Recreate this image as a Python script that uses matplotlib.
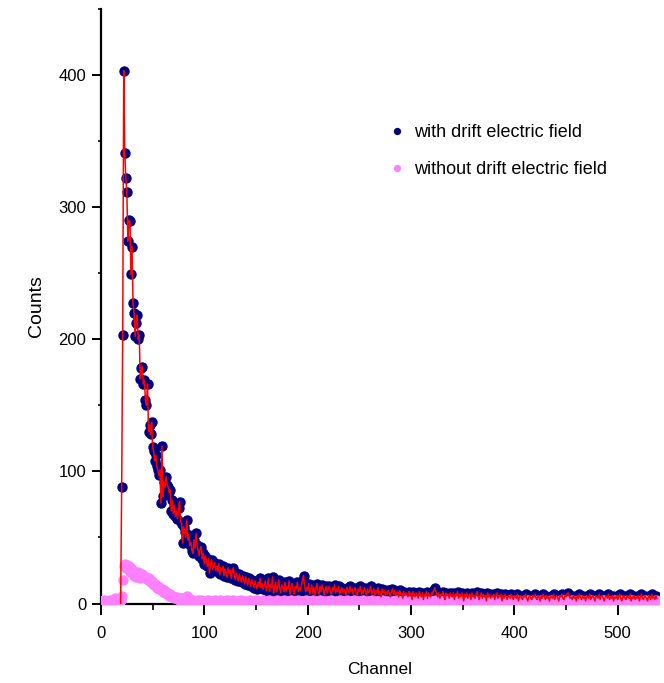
import matplotlib
matplotlib.use("Agg")
import matplotlib.pyplot as plt
from matplotlib.ticker import MultipleLocator

plt.rcParams["font.family"] = ["Liberation Sans", "DejaVu Sans"]

# spectrum with drift field, channels 19..538
with_start = 19
with_field = [
    0, 88, 203, 403, 341, 322, 311, 274, 290, 289, 249, 270, 227, 220, 202, 212, 218, 200, 203, 170,
    178, 179, 166, 169, 154, 150, 166, 130, 135, 128, 137, 118, 115, 108, 112, 104, 101, 97, 101, 76,
    119, 81, 92, 88, 96, 90, 88, 84, 86, 70, 78, 68, 74, 66, 70, 64, 72, 77, 62, 60,
    46, 58, 54, 50, 63, 48, 52, 44, 46, 40, 38, 48, 42, 53, 44, 40, 36, 42, 43, 34,
    38, 30, 36, 32, 28, 34, 23, 30, 33, 26, 29, 31, 25, 28, 24, 30, 22, 27, 25, 28,
    21, 26, 24, 20, 27, 23, 25, 19, 24, 27, 21, 18, 23, 20, 17, 22, 19, 16, 21, 18,
    15, 20, 17, 14, 19, 16, 13, 18, 15, 12, 17, 14, 11, 16, 13, 19, 12, 15, 11, 14,
    17, 10, 13, 19, 9, 14, 12, 20, 8, 13, 16, 9, 12, 18, 11, 8, 14, 12, 9, 16,
    9, 13, 11, 17, 7, 12, 15, 10, 7, 13, 11, 16, 9, 12, 10, 14, 18, 21, 13, 9,
    12, 10, 15, 7, 11, 14, 8, 12, 6, 11, 15, 10, 7, 13, 9, 14, 11, 6, 10, 13,
    8, 11, 13, 9, 7, 12, 10, 14, 8, 11, 9, 13, 7, 10, 12, 8, 11, 9, 6, 12,
    10, 8, 13, 9, 11, 7, 10, 12, 8, 6, 11, 9, 13, 7, 10, 8, 12, 9, 6, 11,
    8, 10, 13, 7, 9, 11, 6, 10, 8, 12, 7, 9, 5, 11, 8, 10, 6, 9, 7, 10,
    8, 5, 9, 11, 7, 10, 6, 8, 9, 5, 10, 7, 8, 4, 9, 6, 8, 7, 5, 9,
    6, 8, 3, 9, 7, 5, 8, 6, 4, 9, 7, 5, 8, 3, 7, 6, 9, 4, 8, 6,
    5, 8, 7, 10, 12, 9, 7, 5, 8, 4, 7, 6, 9, 5, 3, 8, 6, 7, 4, 8,
    6, 5, 8, 3, 7, 6, 9, 4, 7, 5, 8, 6, 2, 7, 5, 8, 4, 6, 7, 3,
    8, 5, 6, 4, 7, 9, 5, 3, 6, 8, 4, 7, 5, 6, 2, 8, 5, 7, 4, 6,
    5, 7, 3, 6, 8, 4, 6, 5, 7, 2, 6, 4, 7, 5, 3, 6, 5, 4, 7, 5,
    3, 6, 5, 4, 7, 2, 5, 6, 4, 3, 6, 5, 7, 4, 2, 5, 6, 4, 3, 6,
    5, 7, 4, 3, 6, 5, 2, 6, 4, 7, 5, 3, 6, 4, 5, 2, 6, 5, 4, 7,
    3, 5, 6, 4, 2, 6, 5, 7, 4, 3, 6, 5, 7, 8, 6, 4, 5, 3, 6, 4,
    5, 2, 6, 4, 7, 5, 3, 6, 4, 5, 2, 6, 5, 4, 7, 3, 5, 6, 4, 2,
    6, 5, 4, 7, 3, 5, 6, 4, 2, 5, 6, 4, 7, 3, 5, 4, 6, 2, 5, 4,
    6, 3, 5, 7, 4, 2, 5, 6, 4, 3, 6, 5, 4, 7, 2, 5, 4, 6, 3, 5,
    4, 6, 2, 5, 7, 4, 3, 6, 5, 4, 2, 6, 5, 3, 7, 4, 5, 3, 6, 4,
]

# spectrum without drift field, channels 0..538
without_start = 0
without_field = [
    2, 1, 2, 3, 2, 1, 2, 2, 3, 2, 1, 2, 2, 3, 4, 2, 2, 1, 2, 3,
    6, 18, 28, 30, 27, 29, 26, 28, 24, 27, 25, 22, 21, 23, 20, 22, 24, 21, 19, 20,
    22, 20, 21, 19, 20, 18, 19, 17, 16, 17, 15, 14, 15, 13, 12, 13, 11, 12, 10, 11,
    9, 10, 8, 9, 7, 8, 6, 7, 6, 5, 6, 4, 5, 4, 5, 3, 4, 3, 4, 3,
    2, 3, 4, 6, 5, 3, 2, 3, 2, 3, 2, 1, 2, 2, 3, 1, 2, 3, 2, 1,
    2, 1, 2, 1, 3, 2, 1, 2, 2, 1, 3, 2, 1, 1, 2, 3, 2, 1, 2, 1,
    1, 2, 3, 2, 1, 2, 1, 2, 3, 1, 2, 1, 2, 2, 1, 3, 2, 1, 2, 1,
    2, 1, 1, 2, 3, 1, 2, 1, 2, 1, 3, 2, 1, 2, 1, 2, 1, 3, 2, 1,
    1, 2, 1, 3, 2, 1, 2, 1, 1, 2, 3, 2, 1, 2, 1, 1, 2, 3, 1, 2,
    2, 1, 2, 1, 3, 2, 1, 2, 1, 2, 1, 3, 2, 1, 2, 1, 2, 1, 3, 2,
    1, 2, 2, 1, 2, 3, 1, 2, 1, 1, 2, 1, 3, 2, 1, 2, 2, 1, 2, 1,
    2, 1, 2, 3, 1, 1, 2, 1, 2, 2, 1, 3, 1, 2, 1, 2, 1, 2, 3, 1,
    1, 2, 1, 2, 1, 3, 2, 1, 1, 2, 2, 1, 2, 1, 3, 1, 2, 1, 2, 2,
    2, 1, 3, 1, 2, 1, 2, 2, 1, 2, 1, 1, 3, 2, 1, 2, 1, 2, 1, 2,
    1, 2, 1, 2, 2, 1, 3, 1, 2, 1, 2, 1, 1, 2, 3, 1, 2, 2, 1, 1,
    2, 1, 2, 1, 1, 2, 3, 2, 1, 2, 1, 2, 1, 1, 2, 2, 1, 3, 1, 2,
    1, 2, 2, 1, 3, 1, 2, 1, 2, 1, 2, 2, 1, 1, 3, 2, 1, 2, 1, 2,
    2, 1, 1, 2, 1, 2, 3, 1, 2, 2, 1, 2, 1, 2, 1, 1, 3, 2, 1, 2,
    1, 3, 2, 1, 2, 1, 1, 2, 2, 1, 2, 1, 3, 1, 2, 2, 1, 2, 1, 1,
    2, 1, 2, 2, 1, 3, 1, 2, 1, 2, 1, 2, 2, 1, 1, 2, 3, 1, 2, 1,
    1, 2, 1, 3, 2, 1, 2, 1, 1, 2, 2, 1, 2, 3, 1, 2, 1, 2, 1, 2,
    2, 1, 2, 1, 2, 1, 3, 2, 1, 1, 2, 2, 1, 2, 1, 3, 1, 2, 2, 1,
    1, 2, 2, 1, 2, 1, 2, 3, 1, 2, 1, 1, 2, 2, 1, 2, 3, 1, 2, 1,
    2, 1, 2, 1, 3, 2, 1, 2, 1, 2, 2, 1, 1, 2, 3, 1, 2, 1, 2, 1,
    1, 2, 1, 2, 2, 1, 3, 1, 2, 1, 2, 2, 1, 2, 1, 1, 2, 3, 1, 2,
    2, 1, 3, 1, 2, 1, 2, 2, 1, 2, 1, 1, 2, 3, 2, 1, 2, 1, 2, 1,
    1, 2, 1, 2, 2, 1, 3, 2, 1, 2, 1, 2, 1, 1, 2, 2, 1, 3, 1,
]

with_channels = list(range(with_start, with_start + len(with_field)))
without_channels = list(range(without_start, without_start + len(without_field)))

NAVY = "#000080"
PINK = "#ff80ff"

fig = plt.figure(figsize=(6.64, 6.83), dpi=100)
ax = fig.add_axes([101 / 664, 1 - 603.5 / 683, 558 / 664, 595 / 683])

ax.plot(with_channels, with_field, "o", color=NAVY, ms=7.5, mew=0,
        label="with drift electric field", zorder=2)
ax.plot(without_channels, without_field, "o", color=PINK, ms=7.5, mew=0,
        label="without drift electric field", zorder=3)
ax.plot(with_channels, with_field, "-", color="red", lw=1.1, zorder=4)

ax.set_xlim(0, 540)
ax.set_ylim(0, 450)
ax.xaxis.set_major_locator(MultipleLocator(100))
ax.xaxis.set_minor_locator(MultipleLocator(50))
ax.yaxis.set_major_locator(MultipleLocator(100))
ax.yaxis.set_minor_locator(MultipleLocator(50))

for side in ("top", "right"):
    ax.spines[side].set_visible(False)
for side in ("left", "bottom"):
    ax.spines[side].set_linewidth(1.6)

ax.tick_params(axis="x", which="major", length=8, width=1.4, labelsize=12, pad=8)
ax.tick_params(axis="x", which="minor", length=4.5, width=1.2)
ax.tick_params(axis="y", which="major", length=6.5, width=1.4, labelsize=12, pad=4)
ax.tick_params(axis="y", which="minor", length=2.5, width=1.2)

ax.set_xlabel("Channel", fontsize=12.5, labelpad=15)
ax.set_ylabel("Counts", fontsize=14, labelpad=10)

ax.legend(loc="upper left", bbox_to_anchor=(0.570, 0.831),
          bbox_transform=fig.transFigure, frameon=False, fontsize=13,
          handlelength=1.0, handletextpad=0.45, labelspacing=1.1,
          borderpad=0, markerscale=0.7)

fig.savefig("out.png", dpi=100)
